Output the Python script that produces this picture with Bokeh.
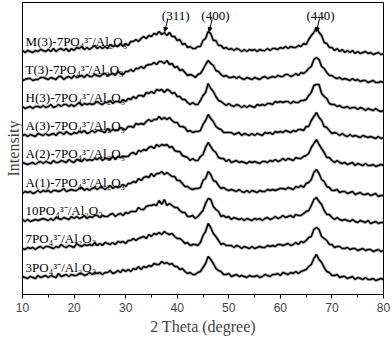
import numpy as np
from bokeh.plotting import figure
from bokeh.models import Range1d, FixedTicker, Arrow, NormalHead, ColumnDataSource
from bokeh.core.properties import value
from bokeh.embed import file_html
from bokeh.resources import INLINE

# ---------------- data ----------------
two_theta = np.linspace(10, 80, 141)  # scan grid, 0.5 degree step

series_names = [
    "M(3)-7PO₄³⁻/Al₂O₃",
    "T(3)-7PO₄³⁻/Al₂O₃",
    "H(3)-7PO₄³⁻/Al₂O₃",
    "A(3)-7PO₄³⁻/Al₂O₃",
    "A(2)-7PO₄³⁻/Al₂O₃",
    "A(1)-7PO₄³⁻/Al₂O₃",
    "10PO₄³⁻/Al₂O₃",
    "7PO₄³⁻/Al₂O₃",
    "3PO₄³⁻/Al₂O₃",
]

intensity_M3 = [
    1, -1, 1, 0, -1, 1, 0, 2, 1, 0,
    2, 0, 3, 0, 2, 3, 1, 3, 0, 3,
    1, 4, 3, 5, 2, 4, 2, 4, 6, 3,
    5, 3, 5, 3, 7, 5, 6, 5, 8, 5,
    8, 6, 10, 10, 12, 10, 13, 15, 13, 16,
    15, 18, 17, 20, 17, 19, 16, 19, 15, 15,
    11, 12, 7, 8, 4, 5, 3, 3, 5, 5,
    11, 13, 20, 18, 11, 11, 6, 6, 3, 4,
    2, 3, 1, 3, 2, 0, 2, 0, 2, 1,
    2, 0, 2, 1, 1, 3, 1, 3, 3, 2,
    4, 3, 5, 3, 5, 4, 4, 6, 5, 8,
    7, 12, 16, 19, 24, 19, 16, 9, 8, 4,
    4, 1, 3, 0, 2, -1, 1, -1, 1, -2,
    0, -2, -1, 0, -2, -1, -3, -2, -1, -3,
    -2,
]
intensity_T3 = [
    -1, 0, 1, 1, -1, 0, 0, 2, 2, 1,
    0, 2, 1, 0, 3, 3, 0, 2, 3, 1,
    4, 2, 3, 4, 2, 5, 3, 3, 5, 4,
    3, 5, 6, 4, 5, 6, 4, 8, 6, 5,
    8, 8, 10, 8, 11, 11, 13, 11, 14, 15,
    15, 17, 15, 18, 18, 16, 19, 15, 16, 12,
    13, 9, 10, 7, 4, 5, 4, 2, 5, 6,
    10, 15, 19, 16, 14, 9, 8, 5, 3, 4,
    2, 2, 3, 1, 3, 1, 0, 2, 1, 0,
    2, 1, 0, 2, 3, 1, 2, 3, 2, 4,
    3, 3, 5, 5, 3, 4, 6, 4, 7, 6,
    8, 11, 13, 20, 22, 20, 13, 11, 7, 4,
    4, 2, 1, 2, 0, 1, 0, -1, 1, -1,
    0, -2, -1, -1, -3, -2, -1, -3, -3, -2,
    -3,
]
intensity_H3 = [
    1, -1, 0, 1, -1, 1, 1, 0, 2, 0,
    1, 3, 0, 1, 3, 1, 3, 3, 1, 3,
    1, 3, 5, 2, 4, 3, 4, 3, 4, 6,
    4, 3, 5, 5, 7, 4, 6, 6, 5, 8,
    6, 9, 8, 11, 9, 12, 12, 11, 15, 14,
    16, 14, 18, 17, 18, 15, 18, 17, 14, 15,
    11, 11, 8, 8, 5, 3, 5, 3, 3, 7,
    12, 15, 24, 19, 16, 11, 7, 6, 4, 2,
    4, 2, 1, 3, 2, 0, 2, 0, 2, 1,
    0, 3, 2, 3, 2, 4, 4, 3, 6, 5,
    6, 5, 6, 6, 4, 6, 5, 5, 7, 7,
    8, 12, 15, 22, 23, 23, 14, 11, 9, 4,
    3, 3, 1, 2, 0, 0, 1, -1, 0, 0,
    -2, 0, -1, -3, -1, -2, -3, -1, -3, -4,
    -3,
]
intensity_A3 = [
    0, 1, -1, 1, 0, -1, 2, 1, 0, 2,
    0, 1, 2, 0, 3, 3, 1, 4, 2, 1,
    3, 2, 4, 3, 5, 2, 3, 5, 3, 5,
    5, 4, 3, 7, 4, 6, 5, 5, 8, 6,
    6, 9, 9, 8, 12, 11, 12, 11, 14, 16,
    14, 16, 16, 19, 16, 18, 16, 18, 15, 13,
    13, 9, 9, 8, 4, 5, 3, 4, 4, 5,
    11, 15, 21, 17, 14, 9, 7, 6, 3, 3,
    3, 3, 1, 2, 3, 0, 2, 1, 0, 2,
    0, 2, 1, 0, 3, 2, 3, 1, 4, 3,
    4, 3, 5, 4, 3, 5, 4, 6, 6, 5,
    9, 9, 15, 19, 23, 18, 15, 9, 8, 5,
    2, 3, 2, 0, 2, 0, -1, 1, -1, 0,
    -1, -2, 0, -1, -2, -1, -2, -3, -1, -3,
    -2,
]
intensity_A2 = [
    1, 0, -1, 0, 1, -1, 1, 2, 0, 2,
    1, 0, 3, 1, 1, 3, 2, 1, 4, 2,
    1, 4, 3, 2, 5, 3, 4, 3, 5, 4,
    6, 3, 5, 5, 4, 7, 4, 7, 6, 7,
    7, 7, 10, 11, 9, 13, 12, 14, 13, 16,
    17, 15, 19, 17, 19, 18, 19, 16, 17, 13,
    12, 12, 8, 7, 6, 3, 5, 3, 3, 7,
    9, 16, 21, 17, 13, 11, 6, 5, 5, 2,
    4, 1, 2, 3, 1, 2, 1, 0, 2, 1,
    2, 1, 0, 2, 2, 1, 3, 2, 4, 2,
    3, 5, 3, 5, 4, 3, 6, 5, 5, 7,
    8, 10, 16, 20, 24, 19, 15, 11, 6, 6,
    3, 1, 3, 1, 0, 1, -1, 0, 1, -2,
    0, -1, -2, 0, -2, -2, -1, -3, -2, -1,
    -2,
]
intensity_A1 = [
    -1, 1, 0, 1, -1, 0, 2, 0, 2, 1,
    2, 0, 2, 2, 1, 2, 4, 1, 2, 3,
    2, 2, 4, 5, 2, 4, 2, 4, 5, 3,
    5, 5, 3, 5, 7, 4, 6, 5, 6, 8,
    6, 9, 9, 11, 10, 14, 12, 15, 16, 15,
    19, 16, 19, 19, 21, 18, 20, 18, 16, 16,
    12, 12, 9, 6, 6, 4, 3, 4, 4, 5,
    12, 14, 21, 18, 12, 11, 7, 4, 5, 3,
    2, 3, 2, 1, 3, 1, 0, 2, 0, 2,
    1, 0, 2, 1, 1, 3, 2, 3, 2, 3,
    4, 4, 3, 5, 4, 3, 6, 5, 7, 5,
    9, 10, 13, 20, 23, 19, 13, 11, 6, 5,
    2, 2, 3, 0, 1, 1, -1, 0, 1, -2,
    -1, 0, -2, -2, -1, -3, -2, -1, -4, -3,
    -3,
]
intensity_10PO = [
    1, -1, 1, -1, 0, 1, 0, 1, 2, 1,
    0, 2, 0, 3, 2, 1, 3, 2, 1, 4,
    2, 4, 2, 3, 5, 2, 4, 3, 5, 5,
    3, 5, 4, 4, 6, 7, 4, 6, 7, 5,
    8, 7, 9, 9, 9, 13, 11, 11, 14, 15,
    15, 16, 15, 20, 16, 21, 15, 17, 15, 13,
    13, 10, 8, 8, 4, 4, 5, 2, 4, 7,
    10, 17, 22, 21, 14, 11, 9, 4, 5, 3,
    4, 1, 3, 2, 1, 2, 0, 2, 1, 0,
    2, 1, 2, 0, 2, 3, 1, 2, 4, 2,
    3, 5, 3, 4, 5, 3, 6, 5, 5, 7,
    9, 10, 15, 21, 23, 19, 16, 10, 6, 6,
    3, 1, 3, 1, 0, 1, 0, -1, 1, -1,
    -2, 0, -1, -2, 0, -3, -2, -1, -3, -2,
    -2,
]
intensity_7PO = [
    0, -1, 1, 0, 1, -1, 1, 2, 0, 2,
    2, 1, 0, 2, 1, 4, 2, 1, 3, 2,
    1, 5, 3, 2, 4, 3, 4, 3, 6, 3,
    5, 3, 6, 5, 4, 6, 4, 7, 6, 7,
    5, 8, 8, 10, 8, 10, 11, 12, 10, 14,
    12, 15, 14, 16, 14, 17, 15, 14, 15, 12,
    10, 10, 8, 5, 6, 3, 4, 4, 3, 6,
    13, 17, 25, 21, 15, 12, 8, 4, 5, 3,
    3, 3, 1, 3, 2, 0, 2, 1, 0, 2,
    0, 1, 2, 1, 1, 3, 2, 3, 2, 4,
    4, 3, 4, 5, 3, 4, 6, 4, 7, 6,
    8, 11, 12, 19, 21, 19, 12, 10, 8, 4,
    4, 1, 2, 2, 0, 0, 1, -1, 0, 0,
    -2, -1, 0, -2, -1, -1, -3, -2, -1, -3,
    -2,
]
intensity_3PO = [
    1, 0, -1, 1, 0, -1, 2, 0, 1, 2,
    0, 2, 1, 0, 4, 1, 2, 3, 1, 3,
    2, 2, 4, 4, 2, 3, 5, 3, 5, 4,
    5, 3, 5, 5, 7, 4, 5, 7, 5, 8,
    6, 8, 6, 9, 8, 11, 8, 11, 10, 12,
    11, 14, 13, 13, 16, 14, 15, 13, 14, 11,
    11, 8, 9, 6, 4, 5, 3, 3, 5, 6,
    10, 14, 21, 18, 14, 9, 7, 6, 3, 3,
    4, 1, 2, 3, 1, 2, 1, 0, 2, 1,
    1, 2, 0, 1, 3, 2, 1, 3, 3, 4,
    2, 5, 4, 3, 5, 4, 6, 4, 6, 7,
    8, 11, 13, 19, 23, 18, 15, 10, 6, 5,
    2, 2, 3, 0, 1, 1, -1, 0, 1, -2,
    0, -1, -2, 0, -2, -2, -1, -3, -2, -1,
    -2,
]

intensities = [intensity_M3, intensity_T3, intensity_H3, intensity_A3, intensity_A2,
               intensity_A1, intensity_10PO, intensity_7PO, intensity_3PO]

peak_labels = ["(311)", "(400)", "(440)"]
peak_pos = [37.4, 46.0, 66.8]

x_ticks = [10, 20, 30, 40, 50, 60, 70, 80]
x_minor = [15, 25, 35, 45, 55, 65, 75]

# ---------------- layout / style ----------------
offsets = [243, 215, 187, 159, 131, 102, 74, 46, 17]   # vertical stacking
label_x = 10.6
label_dy = 10
peak_label_dx = [2.3, 1.4, 1.0]
peak_label_y = 279
arrow_y0, arrow_y1 = 276, 263
arrow_dx0, arrow_dx1 = 0.8, 0.2

SERIF = "Liberation Serif"
SANS = "Liberation Sans"

p = figure(width=392, height=337, output_backend="svg", toolbar_location=None,
           x_range=Range1d(10, 80), y_range=Range1d(0, 292),
           min_border_left=22, min_border_right=9, min_border_top=2, min_border_bottom=43)
p.background_fill_color = "white"
p.border_fill_color = "white"
p.outline_line_color = "black"
p.outline_line_width = 1
p.xgrid.visible = False
p.ygrid.visible = False

for vals, off in zip(intensities, offsets):
    y = np.array(vals, dtype=float) + off
    p.line(two_theta, y, line_color="#707070", line_width=3.0, line_alpha=0.55)
    p.line(two_theta, y, line_color="black", line_width=1.5)

lab_src = ColumnDataSource(dict(x=[label_x] * len(series_names),
                                y=[o + label_dy for o in offsets],
                                text=series_names))
p.text(x="x", y="y", text="text", source=lab_src, text_font=value(SERIF),
       text_font_size="13px", text_color="black", text_baseline="alphabetic",
       text_align="left")

pk_src = ColumnDataSource(dict(x=[pp + d for pp, d in zip(peak_pos, peak_label_dx)],
                               y=[peak_label_y] * len(peak_pos), text=peak_labels))
p.text(x="x", y="y", text="text", source=pk_src, text_font=value(SERIF),
       text_font_size="13px", text_color="black", text_baseline="alphabetic",
       text_align="center")

for pp in peak_pos:
    p.add_layout(Arrow(end=NormalHead(size=4, fill_color="black", line_color="black"),
                       x_start=pp + arrow_dx0, y_start=arrow_y0,
                       x_end=pp + arrow_dx1, y_end=arrow_y1,
                       line_color="black", line_width=1))

xa = p.xaxis[0]
xa.ticker = FixedTicker(ticks=x_ticks, minor_ticks=x_minor)
xa.axis_label = "2 Theta (degree)"
xa.axis_label_text_font = SERIF
xa.axis_label_text_font_size = "16px"
xa.axis_label_text_font_style = "normal"
xa.axis_label_standoff = 3
xa.major_label_text_font = SANS
xa.major_label_text_font_size = "12px"
xa.major_label_standoff = 4
xa.major_tick_in = 0
xa.major_tick_out = 4
xa.minor_tick_in = 0
xa.minor_tick_out = 3
xa.axis_line_color = "black"
xa.major_tick_line_color = "black"
xa.minor_tick_line_color = "black"

ya = p.yaxis[0]
ya.ticker = FixedTicker(ticks=[])
ya.axis_label = "Intensity"
ya.axis_label_text_font = SERIF
ya.axis_label_text_font_size = "16px"
ya.axis_label_text_font_style = "normal"
ya.axis_label_standoff = 1
ya.major_label_standoff = 0
ya.major_tick_out = 0
ya.major_tick_in = 0
ya.minor_tick_out = 0
ya.axis_line_color = "black"

open("out.html", "w").write(file_html(p, INLINE))
